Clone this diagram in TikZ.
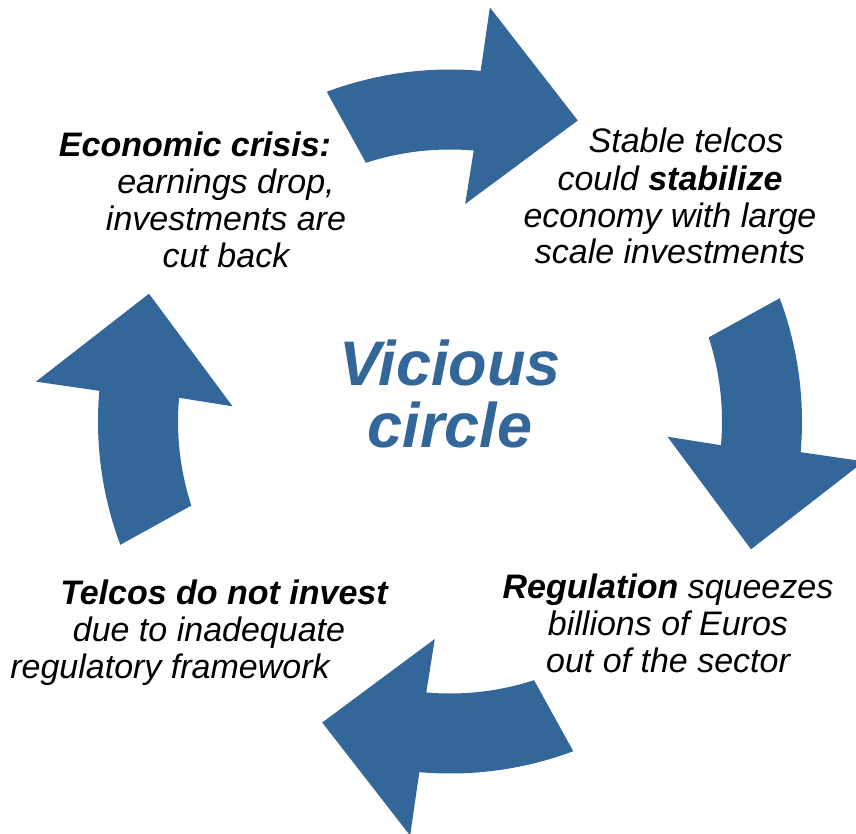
\documentclass[tikz,border=0pt]{standalone}
\usepackage{fontspec}
\setmainfont{Liberation Sans}
\usetikzlibrary{positioning}
\definecolor{circleblue}{RGB}{51,102,153}

\begin{document}
\begin{tikzpicture}[x=1pt, y=1pt,
        turn/.style={fill=circleblue, draw=none},
        label/.style={align=center, inner sep=0pt, anchor=base,
            font=\fontsize{34}{37}\selectfont\itshape},
        headline/.style={align=center, inner sep=0pt, anchor=base, text=circleblue,
            font=\fontsize{63}{62}\selectfont\bfseries\itshape}]
        \useasboundingbox (-450,-411.5) rectangle (406,421.5);
%
        % the four curved arrows, one turned a quarter for each step
        \foreach \turnangle in {0,-90,-180,-270}
            \fill[turn, rotate=\turnangle]
                (110.5:352) arc[start angle=110.5, end angle=85, radius=352]
                -- (84.5:416) -- (67:327) -- (86:218) -- (85:272)
                arc[start angle=85, end angle=108, radius=272] -- cycle;
%
        % base anchor sits on the last line of each block
        \node[headline] (vicious) at (0,-25.5) {Vicious\\circle};
%
        \node[label] (crisis) at (-224,154.5)
            {\textbf{Economic crisis:}\hspace*{62pt}\\earnings drop,\\investments are\\cut back};
        \node[label] (stable) at (220,157.5)
            {\hspace*{32pt}Stable telcos\\could \textbf{stabilize}\\economy with large\\scale investments};
        \node[label] (regulation) at (218,-250.5)
            {\textbf{Regulation} squeezes\\billions of Euros\\out of the sector};
        \node[label] (noinvest) at (-226,-256.5)
            {\textbf{Telcos do not invest}\\\hspace*{-30pt}due to inadequate\\regulatory framework\hspace*{108pt}};
\end{tikzpicture}
\end{document}
